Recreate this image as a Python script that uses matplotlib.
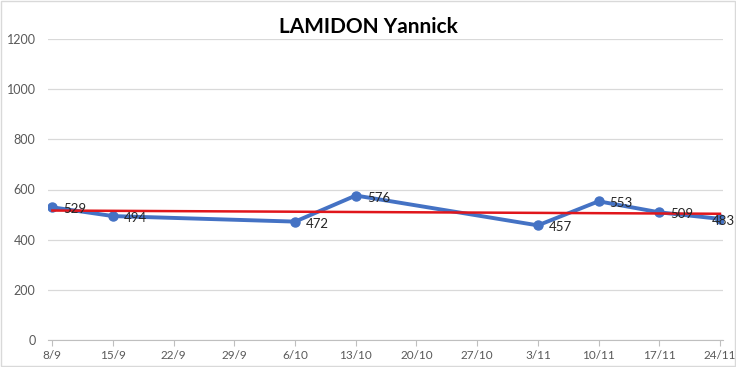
import matplotlib
matplotlib.use("Agg")
import matplotlib.pyplot as plt
import matplotlib.dates as mdates
import numpy as np
import pandas as pd

# Données
dates = pd.to_datetime(["2019-09-08", "2019-09-15", "2019-10-06", "2019-10-13",
                        "2019-11-03", "2019-11-10", "2019-11-17", "2019-11-24"])
valeurs = [529, 494, 472, 576, 457, 553, 509, 483]
ticks_dates = pd.date_range("2019-09-08", "2019-11-24", freq="7D")
yticks = [0, 200, 400, 600, 800, 1000, 1200]

plt.rcParams['font.family'] = ['Lato', 'DejaVu Sans']

fig = plt.figure(figsize=(7.36, 3.67), dpi=100)
ax = fig.add_axes([48 / 736, 27 / 367, 675 / 736, 301 / 367])

# bordure du graphique
fig.patches.append(plt.Rectangle((0.001, 0.002), 0.997, 0.995, transform=fig.transFigure,
                                 fill=False, edgecolor="#d9d9d9", linewidth=1))

x = mdates.date2num(dates)
ax.plot(x, valeurs, color="#4472C4", linewidth=2.8, marker="o", markersize=6.5, zorder=3)

# Courbe de tendance linéaire
p = np.polyfit(x, valeurs, 1)
xt = np.array([x[0], x[-1]])
ax.plot(xt, np.polyval(p, xt), color="#E0161B", linewidth=1.8, zorder=4)

# Étiquettes de données (la dernière est décalée vers la gauche comme dans Excel)
for i, (xi, v) in enumerate(zip(x, valeurs)):
    dx = 8 if i < len(valeurs) - 1 else -6
    ax.annotate(str(v), (xi, v), xytext=(dx, -1.5), textcoords="offset points",
                fontsize=9.5, color="#262626", va="center", ha="left", zorder=5)

ax.set_ylim(0, 1200)
ax.set_yticks(yticks)
ax.set_xlim(x[0] - 0.5, x[-1] + 0.35)
ax.set_xticks(mdates.date2num(ticks_dates))
ax.set_xticklabels([f"{d.day}/{d.month}" for d in ticks_dates])

ax.grid(axis="y", color="#d9d9d9", linewidth=0.9)
ax.set_axisbelow(True)
for s in ["top", "right", "left"]:
    ax.spines[s].set_visible(False)
ax.spines["bottom"].set_color("#bfbfbf")
ax.tick_params(axis="y", length=0, labelsize=9, labelcolor="#595959", pad=9)
ax.tick_params(axis="x", length=4, color="#bfbfbf", labelsize=8.5, labelcolor="#595959", pad=3)

fig.suptitle("LAMIDON Yannick", x=0.5, y=1 - 27 / 367, va="center",
             fontsize=15, fontweight="bold", color="#000000")

fig.savefig("out.png", dpi=100)
